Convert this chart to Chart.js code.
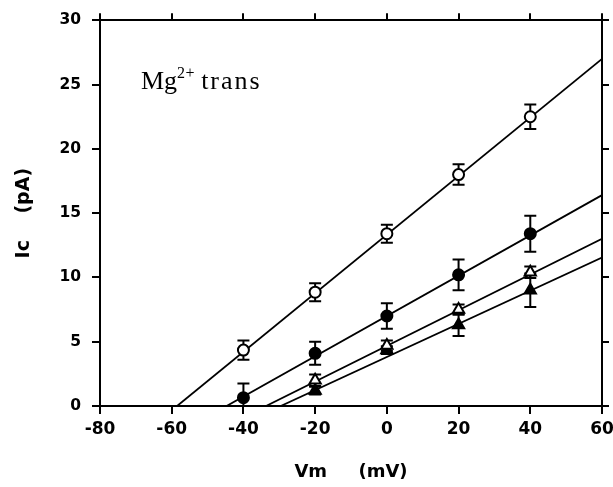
<!DOCTYPE html>
<html>
<head>
<meta charset="utf-8">
<script src="https://cdn.jsdelivr.net/npm/chart.js@4/dist/chart.umd.min.js"></script>
<style>
  body { margin: 0; background: #fff; }
</style>
</head>
<body>
<canvas id="chart" width="613" height="487"></canvas>
<script>
// Membrane voltage (mV) and mean current (pA) with error bar half-widths
const voltages = [-40, -20, 0, 20, 40]
const triVoltages = [-20, 0, 20, 40]

const openCircle = [4.35, 8.85, 13.4, 18.0, 22.5]
const openCircleErr = [0.75, 0.7, 0.7, 0.8, 0.95]
const filledCircle = [0.65, 4.1, 7.0, 10.2, 13.4]
const filledCircleErr = [1.1, 0.9, 1.0, 1.2, 1.4]
const openTriangle = [2.0, 4.7, 7.5, 10.4]
const openTriangleErr = [0.45, 0.4, 0.4, 0.45]
const filledTriangle = [1.2, 4.35, 6.3, 9.0]
const filledTriangleErr = [0.3, 0.3, 0.85, 1.3]

// Regression lines: [x at zero current, 60 mV] and [0, current at 60 mV]
const openCircleFitX = [-58.5, 60]
const openCircleFitY = [0, 27.0]
const filledCircleFitX = [-44.7, 60]
const filledCircleFitY = [0, 16.4]
const openTriangleFitX = [-33.7, 60]
const openTriangleFitY = [0, 13.0]
const filledTriangleFitX = [-29.6, 60]
const filledTriangleFitY = [0, 11.55]

const xTicks = [-80, 60, 20]   // min, max, step
const yTicks = [0, 30, 5]

const toPoints = (xs, ys) => xs.map((x, i) => ({ x: x, y: ys[i] }))

function markerSet(xs, ys, errs, style, fill) {
    return {
        data: toPoints(xs, ys),
        errors: errs,
        showLine: false,
        pointStyle: style,
        pointRadius: style === 'triangle' ? 6.5 : 5.5,
        pointBorderWidth: 2,
        pointBorderColor: '#000',
        pointBackgroundColor: fill,
    }
}

function fitSet(xs, ys) {
    return {
        data: toPoints(xs, ys),
        showLine: true,
        borderColor: '#000',
        borderWidth: 1.8,
        pointRadius: 0,
    }
}

// Vertical error bars with caps, drawn under the markers
const errorBars = {
    id: 'errorBars',
    beforeDatasetsDraw(chart) {
        const ctx = chart.ctx
        const xs = chart.scales.x
        const ys = chart.scales.y
        ctx.save()
        ctx.strokeStyle = '#000'
        ctx.lineWidth = 2
        chart.data.datasets.forEach(ds => {
            if (!ds.errors) return
            ds.data.forEach((p, i) => {
                const px = xs.getPixelForValue(p.x)
                const top = ys.getPixelForValue(p.y + ds.errors[i])
                const bottom = Math.min(ys.getPixelForValue(p.y - ds.errors[i]), ys.bottom)
                ctx.beginPath()
                ctx.moveTo(px, top)
                ctx.lineTo(px, bottom)
                ctx.moveTo(px - 6, top)
                ctx.lineTo(px + 6, top)
                if (bottom < ys.bottom) {
                    ctx.moveTo(px - 6, bottom)
                    ctx.lineTo(px + 6, bottom)
                }
                ctx.stroke()
            })
        })
        ctx.restore()
    }
}

// "Mg2+ trans" label inside the plot
const condition = {
    id: 'condition',
    afterDraw(chart) {
        const ctx = chart.ctx
        const area = chart.chartArea
        let x = area.left + 41
        const y = area.top + 69
        ctx.save()
        ctx.fillStyle = '#000'
        ctx.textBaseline = 'alphabetic'
        ctx.font = '26px "Liberation Serif"'
        ctx.letterSpacing = '0px'
        ctx.fillText('Mg', x, y)
        x += ctx.measureText('Mg').width
        ctx.font = '16px "Liberation Serif"'
        ctx.letterSpacing = '0.5px'
        ctx.fillText('2+', x, y - 11)
        x += ctx.measureText('2+').width + 6
        ctx.font = '26px "Liberation Serif"'
        ctx.letterSpacing = '2px'
        ctx.fillText('trans', x, y)
        ctx.restore()
    }
}

const tickFont = size => ({ family: 'DejaVu Sans', weight: 'bold', size: size })

function frameGrid(len) {
    return { drawOnChartArea: false, drawTicks: true, tickLength: len, lineWidth: 2, color: '#000' }
}
const frameBorder = { display: true, color: '#000', width: 2 }

new Chart(document.getElementById('chart'), {
    type: 'scatter',
    data: {
        datasets: [
            markerSet(voltages, openCircle, openCircleErr, 'circle', '#fff'),
            markerSet(voltages, filledCircle, filledCircleErr, 'circle', '#000'),
            markerSet(triVoltages, openTriangle, openTriangleErr, 'triangle', '#fff'),
            markerSet(triVoltages, filledTriangle, filledTriangleErr, 'triangle', '#000'),
            fitSet(openCircleFitX, openCircleFitY),
            fitSet(filledCircleFitX, filledCircleFitY),
            fitSet(openTriangleFitX, openTriangleFitY),
            fitSet(filledTriangleFitX, filledTriangleFitY),
        ]
    },
    options: {
        responsive: false,
        animation: false,
        layout: { padding: 0 },
        plugins: { legend: { display: false }, tooltip: { enabled: false } },
        scales: {
            x: {
                type: 'linear', position: 'bottom',
                min: xTicks[0], max: xTicks[1],
                ticks: { stepSize: xTicks[2], font: tickFont(17), color: '#000', padding: 5, maxRotation: 0 },
                grid: frameGrid(8),
                border: frameBorder,
                title: { display: true, text: 'Vm     (mV)', font: tickFont(18), color: '#000', padding: { top: 0, bottom: 4 } },
                afterFit(s) {
                    s.height = 81
                    // let the "60" label overhang the canvas edge instead of shrinking the plot
                    s.paddingLeft = 0
                    s.paddingRight = 0
                }
            },
            x2: {
                type: 'linear', position: 'top',
                min: xTicks[0], max: xTicks[1],
                ticks: { stepSize: xTicks[2], display: false },
                grid: frameGrid(7),
                border: frameBorder,
                afterFit(s) { s.height = 20 }
            },
            y: {
                type: 'linear', position: 'left',
                min: yTicks[0], max: yTicks[1],
                ticks: { stepSize: yTicks[2], font: tickFont(15.5), color: '#000', padding: 11 },
                grid: frameGrid(8),
                border: frameBorder,
                title: { display: true, text: 'Ic    (pA)', font: tickFont(19), color: '#000', padding: { top: 13, bottom: 0 } },
                afterFit(s) { s.width = 100 }
            },
            y2: {
                type: 'linear', position: 'right',
                min: yTicks[0], max: yTicks[1],
                ticks: { stepSize: yTicks[2], display: false },
                grid: frameGrid(7),
                border: frameBorder,
                afterFit(s) { s.width = 11 }
            }
        }
    },
    plugins: [errorBars, condition]
})
</script>
</body>
</html>
